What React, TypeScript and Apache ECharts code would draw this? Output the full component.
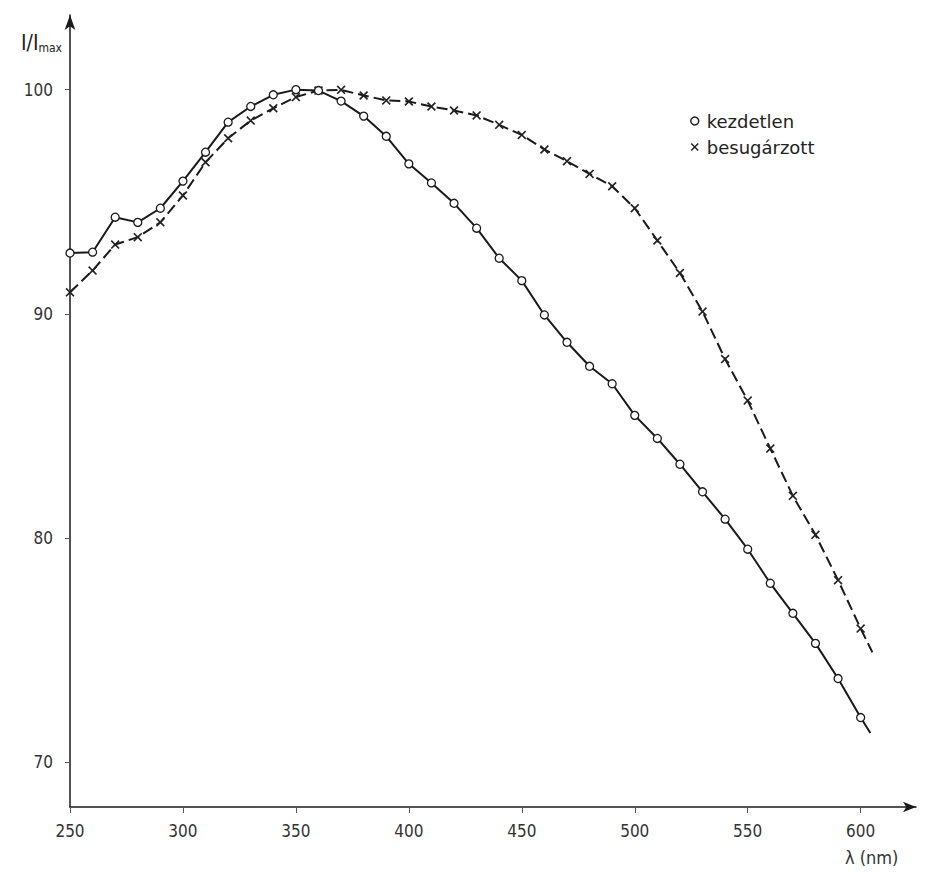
import React, { useEffect, useRef } from "react";
import * as echarts from "echarts";

const wavelengths = [250, 260, 270, 280, 290, 300, 310, 320, 330, 340, 350, 360, 370, 380, 390, 400, 410, 420, 430, 440, 450, 460, 470, 480, 490, 500, 510, 520, 530, 540, 550, 560, 570, 580, 590, 600];

const kezdetlen = [92.71, 92.75, 94.31, 94.08, 94.71, 95.92, 97.21, 98.55, 99.25, 99.77, 100.0, 99.96, 99.49, 98.82, 97.92, 96.69, 95.84, 94.93, 93.82, 92.48, 91.48, 89.95, 88.73, 87.66, 86.88, 85.47, 84.44, 83.29, 82.06, 80.84, 79.5, 77.98, 76.64, 75.3, 73.73, 71.99];

const besugarzott = [90.96, 91.93, 93.09, 93.42, 94.08, 95.28, 96.76, 97.83, 98.62, 99.17, 99.67, 99.96, 99.99, 99.74, 99.52, 99.47, 99.25, 99.07, 98.85, 98.43, 97.98, 97.33, 96.81, 96.24, 95.69, 94.71, 93.27, 91.82, 90.1, 87.98, 86.13, 83.99, 81.88, 80.14, 78.12, 75.96];

// line ends drawn slightly past the last marker (no marker)
const kezdetlenEnd = [604.3, 71.3];
const besugarzottEnd = [605.2, 74.9];

const xTicks = [250, 300, 350, 400, 450, 500, 550, 600];
const yTicks = [70, 80, 90, 100];

const seriesNames = ["kezdetlen", "besugárzott"];

const crossPath =
  "path://M0,1.3L1.3,0L5,3.7L8.7,0L10,1.3L6.3,5L10,8.7L8.7,10L5,6.3L1.3,10L0,8.7L3.7,5Z";

export default function App() {
  const ref = useRef<HTMLDivElement>(null);

  useEffect(() => {
    if (!ref.current) return;
    const chart = echarts.init(ref.current, undefined, { renderer: "svg" });

    const dataA: any[] = wavelengths.map((w, i) => [w, kezdetlen[i]]);
    dataA.push({ value: kezdetlenEnd, symbol: "none" });
    const dataB: any[] = wavelengths.map((w, i) => [w, besugarzott[i]]);
    dataB.push({ value: besugarzottEnd, symbol: "none" });

    const labelFont = "'DejaVu Sans Condensed', 'DejaVu Sans', sans-serif";

    chart.setOption({
      animation: false,
      backgroundColor: "#ffffff",
      grid: { left: 70, right: 11, top: 15, bottom: 65 },
      legend: {
        orient: "vertical",
        left: 690,
        top: 111,
        padding: 0,
        itemGap: 6,
        itemWidth: 14,
        itemHeight: 8,
        textStyle: {
          fontFamily: "'DejaVu Sans', sans-serif",
          fontSize: 18,
          lineHeight: 20,
          color: "#222",
        },
        data: [
          {
            name: seriesNames[0],
            icon: "circle",
            itemStyle: { color: "#ffffff", borderColor: "#222", borderWidth: 1.5 },
          },
          {
            name: seriesNames[1],
            icon: crossPath,
            itemStyle: { color: "#222", borderWidth: 0 },
          },
        ],
      },
      xAxis: {
        type: "value",
        min: 250,
        max: 624.5,
        splitLine: { show: false },
        axisLine: {
          show: true,
          onZero: false,
          symbol: ["none", "arrow"],
          symbolSize: [8, 13],
          lineStyle: { color: "#1a1a1a", width: 1.5 },
        },
        axisTick: {
          show: true,
          length: 6,
          customValues: xTicks,
          lineStyle: { color: "#555", width: 1 },
        },
        axisLabel: {
          customValues: xTicks,
          margin: 15,
          fontFamily: labelFont,
          fontSize: 17,
          color: "#333",
        },
      },
      yAxis: {
        type: "value",
        min: 68,
        max: 103.33,
        splitLine: { show: false },
        name: "I/I{s|max}",
        nameLocation: "end",
        nameGap: -28,
        nameTextStyle: {
          align: "right",
          verticalAlign: "middle",
          padding: [0, 8, 0, 0],
          fontFamily: labelFont,
          fontSize: 21,
          color: "#222",
          rich: {
            s: {
              fontFamily: labelFont,
              fontSize: 12,
              color: "#222",
              padding: [9, 0, 0, 0],
            },
          },
        },
        axisLine: {
          show: true,
          onZero: false,
          symbol: ["none", "arrow"],
          symbolSize: [8, 15],
          lineStyle: { color: "#1a1a1a", width: 1.5 },
        },
        axisTick: {
          show: true,
          length: 5,
          customValues: yTicks,
          lineStyle: { color: "#555", width: 1 },
        },
        axisLabel: {
          customValues: yTicks,
          margin: 17,
          fontFamily: labelFont,
          fontSize: 17,
          color: "#333",
        },
      },
      graphic: [
        {
          type: "text",
          left: 845,
          top: 848,
          style: {
            text: "λ (nm)",
            font: "18px 'DejaVu Sans Condensed', 'DejaVu Sans', sans-serif",
            fill: "#333",
          },
        },
      ],
      series: [
        {
          name: seriesNames[0],
          type: "line",
          data: dataA,
          symbol: "circle",
          symbolSize: 8,
          showAllSymbol: true,
          lineStyle: { color: "#1a1a1a", width: 2, type: "solid" },
          itemStyle: { color: "#ffffff", borderColor: "#1a1a1a", borderWidth: 1.3 },
          z: 3,
        },
        {
          name: seriesNames[1],
          type: "line",
          data: dataB,
          symbol: crossPath,
          symbolSize: 9,
          showAllSymbol: true,
          lineStyle: { color: "#1a1a1a", width: 2, type: [11, 5] },
          itemStyle: { color: "#222", borderWidth: 0 },
          z: 2,
        },
      ],
    });

    return () => chart.dispose();
  }, []);

  return (
    <div
      ref={ref}
      style={{ position: "fixed", left: 0, top: 0, width: 927, height: 872, background: "#fff" }}
    />
  );
}
